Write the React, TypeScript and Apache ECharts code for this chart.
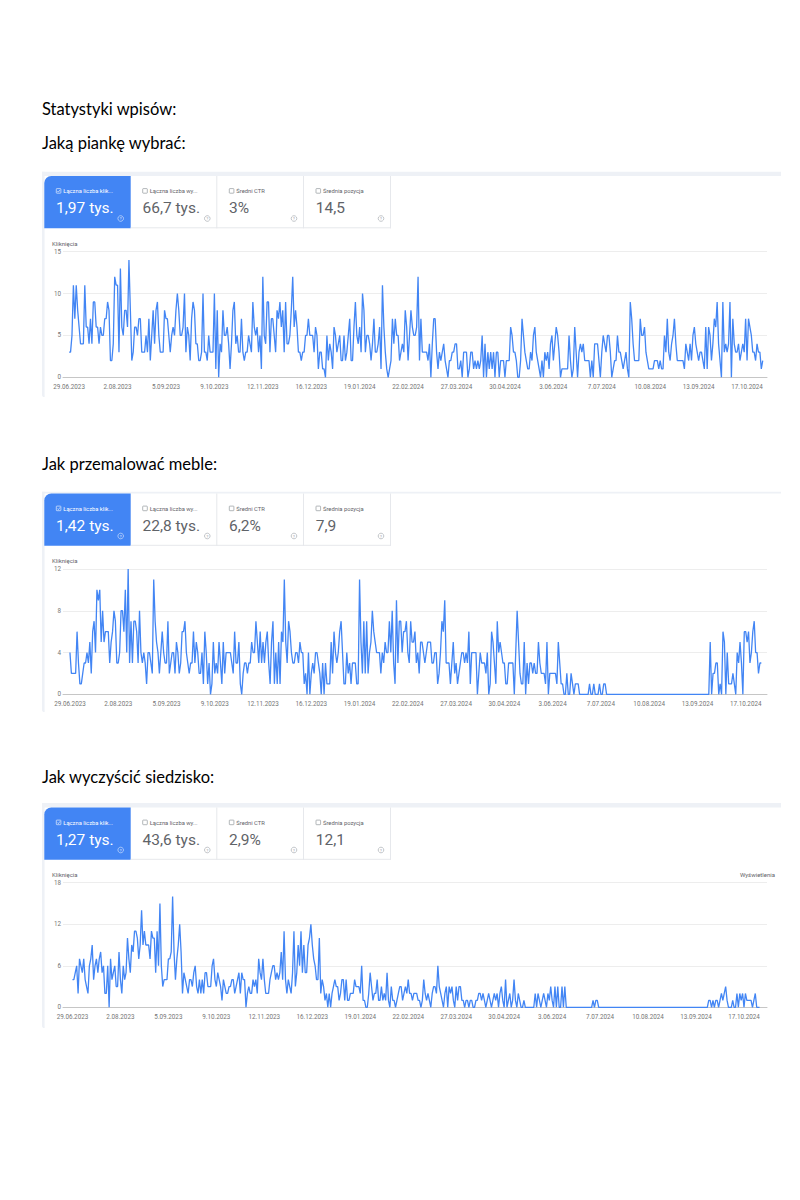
import React, { useEffect, useRef } from "react";
import * as echarts from "echarts";

// ---------- DATA ----------
const xTickLabels = [
  "29.06.2023", "2.08.2023", "5.09.2023", "9.10.2023", "12.11.2023", "16.12.2023", "19.01.2024",
  "22.02.2024", "27.03.2024", "30.04.2024", "3.06.2024", "7.07.2024", "10.08.2024", "13.09.2024", "17.10.2024",
];
const xTickDays = [0, 34, 68, 102, 136, 170, 204, 238, 272, 306, 340, 374, 408, 442, 476];

const cardLabels = ["Łączna liczba klik...", "Łączna liczba wy...", "Średni CTR", "Średnia pozycja"];
const cardValuesPianka = ["1,97 tys.", "66,7 tys.", "3%", "14,5"];
const cardValuesMeble = ["1,42 tys.", "22,8 tys.", "6,2%", "7,9"];
const cardValuesSiedzisko = ["1,27 tys.", "43,6 tys.", "2,9%", "12,1"];

// daily clicks, 29.06.2023 – 28.10.2024 (488 days)
const clicksPianka = [
  3, 3, 5, 11, 7, 11, 8, 6, 4, 4,
  4, 11, 6, 6, 4, 7, 4, 9, 9, 6,
  6, 4, 6, 5, 5, 7, 7, 9, 8, 2,
  2, 4, 12, 11, 11, 3, 13, 6, 5, 8,
  8, 6, 14, 8, 2, 3, 6, 6, 5, 7,
  7, 3, 3, 3, 5, 3, 7, 2, 5, 8,
  4, 8, 9, 5, 3, 3, 3, 8, 7, 7,
  5, 3, 5, 6, 5, 8, 10, 8, 5, 5,
  6, 10, 3, 6, 5, 2, 7, 9, 8, 4,
  4, 2, 2, 3, 10, 3, 3, 2, 5, 3,
  3, 3, 10, 1, 8, 0, 4, 3, 8, 5,
  5, 6, 4, 1, 4, 8, 9, 4, 5, 3,
  3, 7, 3, 2, 3, 3, 5, 4, 3, 9,
  6, 5, 6, 3, 5, 1, 12, 5, 4, 9,
  9, 3, 7, 7, 5, 3, 8, 7, 9, 6,
  8, 3, 9, 4, 4, 5, 8, 12, 6, 8,
  6, 3, 3, 2, 3, 3, 5, 5, 7, 5,
  5, 5, 3, 6, 5, 1, 3, 3, 1, 1,
  0, 5, 2, 4, 3, 1, 6, 5, 3, 4,
  5, 2, 2, 5, 2, 3, 5, 7, 2, 2,
  6, 9, 5, 4, 6, 3, 10, 8, 3, 5,
  5, 4, 2, 4, 7, 3, 3, 4, 6, 1,
  11, 6, 3, 1, 0, 1, 2, 7, 4, 7,
  5, 5, 2, 3, 4, 3, 8, 6, 2, 5,
  8, 6, 5, 5, 6, 12, 2, 7, 3, 3,
  3, 3, 2, 4, 0, 4, 7, 7, 3, 1,
  3, 2, 3, 4, 2, 1, 0, 2, 2, 3,
  3, 4, 4, 1, 1, 2, 0, 3, 3, 3,
  0, 1, 3, 3, 1, 2, 1, 2, 1, 2,
  5, 0, 4, 0, 3, 1, 3, 1, 3, 0,
  3, 3, 0, 2, 2, 2, 0, 2, 2, 2,
  6, 5, 3, 3, 2, 0, 0, 2, 7, 5,
  3, 2, 1, 1, 3, 2, 5, 6, 3, 2,
  1, 0, 2, 0, 3, 2, 3, 1, 4, 5,
  2, 4, 6, 5, 3, 0, 1, 1, 1, 1,
  1, 5, 2, 0, 1, 6, 3, 0, 3, 4,
  3, 4, 2, 2, 2, 2, 0, 2, 0, 4,
  4, 4, 2, 0, 3, 5, 4, 3, 5, 5,
  3, 0, 1, 2, 2, 5, 3, 3, 2, 1,
  2, 3, 1, 0, 9, 7, 4, 2, 2, 2,
  2, 7, 5, 5, 6, 3, 2, 1, 1, 1,
  1, 2, 2, 2, 1, 2, 1, 1, 5, 3,
  7, 3, 2, 4, 5, 7, 4, 2, 2, 2,
  2, 2, 1, 4, 3, 2, 4, 2, 5, 6,
  4, 3, 2, 3, 3, 2, 1, 6, 1, 6,
  5, 2, 4, 7, 6, 9, 4, 2, 0, 9,
  3, 4, 3, 4, 9, 0, 7, 4, 3, 3,
  4, 2, 3, 4, 3, 7, 2, 7, 6, 5,
  3, 3, 2, 4, 3, 3, 1, 2,
];

const clicksMeble = [
  4, 2, 2, 2, 2, 6, 3, 1, 1, 2,
  3, 3, 4, 3, 5, 2, 6, 7, 4, 10,
  9, 10, 5, 8, 5, 6, 6, 6, 3, 5,
  6, 8, 7, 3, 3, 4, 8, 8, 6, 10,
  4, 12, 3, 7, 3, 7, 7, 6, 3, 8,
  4, 3, 4, 3, 1, 4, 4, 3, 2, 11,
  7, 5, 4, 2, 4, 6, 4, 3, 3, 7,
  2, 3, 4, 4, 2, 5, 4, 2, 3, 6,
  6, 7, 4, 3, 2, 3, 3, 6, 3, 5,
  4, 2, 2, 4, 1, 6, 4, 1, 3, 0,
  1, 5, 2, 3, 2, 5, 3, 1, 5, 2,
  4, 4, 4, 4, 3, 2, 6, 3, 3, 5,
  1, 0, 2, 3, 3, 2, 3, 3, 5, 4,
  4, 7, 5, 3, 6, 3, 5, 3, 5, 6,
  3, 1, 5, 7, 1, 4, 1, 5, 1, 6,
  5, 11, 5, 3, 7, 6, 4, 3, 3, 4,
  4, 3, 5, 4, 4, 1, 2, 0, 4, 0,
  2, 3, 2, 4, 4, 3, 2, 0, 3, 0,
  3, 1, 1, 1, 5, 2, 6, 4, 3, 4,
  6, 7, 4, 1, 1, 4, 2, 3, 1, 3,
  3, 3, 1, 1, 11, 5, 2, 7, 2, 7,
  2, 4, 5, 8, 6, 5, 4, 4, 4, 2,
  4, 3, 5, 4, 4, 7, 4, 8, 3, 1,
  9, 3, 7, 7, 4, 6, 6, 7, 4, 3,
  7, 5, 5, 6, 3, 4, 2, 5, 5, 4,
  3, 4, 5, 5, 5, 3, 3, 4, 4, 1,
  2, 4, 7, 6, 9, 3, 3, 3, 1, 3,
  5, 2, 3, 1, 2, 3, 4, 4, 3, 4,
  3, 6, 1, 4, 4, 4, 4, 0, 2, 4,
  3, 3, 3, 2, 4, 0, 1, 6, 5, 3,
  1, 7, 4, 5, 4, 3, 3, 1, 1, 3,
  3, 3, 3, 0, 4, 8, 5, 2, 1, 1,
  5, 0, 3, 1, 3, 3, 2, 3, 2, 2,
  5, 3, 2, 2, 2, 1, 5, 0, 2, 2,
  2, 2, 2, 1, 5, 3, 1, 1, 0, 0,
  2, 0, 0, 2, 1, 0, 1, 1, 1, 0,
  0, 0, 0, 0, 0, 0, 1, 0, 0, 1,
  0, 0, 0, 1, 0, 0, 1, 1, 0, 0,
  0, 0, 0, 0, 0, 0, 0, 0, 0, 0,
  0, 0, 0, 0, 0, 0, 0, 0, 0, 0,
  0, 0, 0, 0, 0, 0, 0, 0, 0, 0,
  0, 0, 0, 0, 0, 0, 0, 0, 0, 0,
  0, 0, 0, 0, 0, 0, 0, 0, 0, 0,
  0, 0, 0, 0, 0, 0, 0, 0, 0, 0,
  0, 0, 0, 0, 0, 0, 0, 0, 0, 0,
  0, 5, 0, 2, 2, 3, 3, 0, 1, 0,
  6, 5, 0, 4, 1, 1, 1, 2, 1, 0,
  4, 3, 5, 3, 0, 6, 6, 5, 6, 3,
  4, 6, 7, 4, 4, 2, 3, 3,
];

const clicksSiedzisko = [
  4, 4, 5, 6, 2, 7, 6, 5, 7, 4,
  3, 2, 6, 7, 9, 4, 6, 7, 5, 7,
  8, 5, 6, 2, 2, 6, 0, 7, 4, 5,
  6, 3, 3, 8, 4, 2, 6, 4, 5, 10,
  7, 5, 9, 8, 11, 11, 10, 7, 9, 14,
  9, 11, 9, 9, 9, 7, 11, 10, 10, 5,
  11, 6, 15, 6, 3, 4, 4, 4, 7, 7,
  8, 16, 8, 4, 7, 9, 12, 8, 2, 5,
  4, 3, 2, 4, 4, 3, 5, 6, 3, 2,
  4, 2, 4, 2, 5, 5, 3, 3, 3, 6,
  7, 4, 3, 5, 4, 3, 1, 4, 3, 2,
  2, 3, 3, 4, 4, 2, 3, 4, 5, 2,
  5, 4, 4, 0, 2, 3, 2, 2, 4, 3,
  4, 2, 7, 5, 4, 7, 4, 2, 2, 2,
  4, 5, 6, 6, 4, 5, 4, 5, 8, 4,
  11, 4, 2, 4, 3, 2, 5, 11, 3, 5,
  9, 6, 11, 5, 9, 5, 5, 9, 10, 12,
  9, 7, 6, 4, 4, 10, 2, 4, 3, 1,
  2, 0, 2, 0, 2, 3, 4, 3, 3, 1,
  2, 4, 4, 1, 4, 1, 1, 2, 2, 2,
  4, 3, 3, 3, 2, 6, 1, 1, 0, 0,
  2, 5, 3, 1, 2, 2, 4, 1, 1, 3,
  1, 2, 1, 5, 1, 0, 3, 1, 1, 0,
  1, 2, 3, 3, 1, 2, 3, 2, 4, 2,
  2, 1, 2, 2, 2, 1, 1, 0, 1, 4,
  2, 1, 2, 1, 0, 2, 3, 3, 2, 6,
  3, 2, 1, 0, 2, 3, 0, 3, 2, 3,
  1, 0, 3, 1, 3, 3, 1, 1, 0, 1,
  1, 0, 1, 1, 0, 0, 1, 1, 2, 2,
  1, 2, 1, 0, 1, 2, 1, 0, 1, 2,
  1, 2, 0, 2, 3, 1, 0, 4, 0, 1,
  2, 0, 1, 4, 1, 0, 2, 1, 0, 0,
  1, 0, 0, 0, 0, 0, 0, 0, 2, 0,
  2, 1, 0, 1, 2, 1, 0, 2, 1, 3,
  1, 0, 3, 0, 3, 0, 0, 3, 0, 3,
  0, 0, 0, 0, 0, 0, 0, 0, 0, 0,
  0, 0, 0, 0, 0, 0, 0, 0, 0, 1,
  0, 1, 1, 0, 0, 0, 0, 0, 0, 0,
  0, 0, 0, 0, 0, 0, 0, 0, 0, 0,
  0, 0, 0, 0, 0, 0, 0, 0, 0, 0,
  0, 0, 0, 0, 0, 0, 0, 0, 0, 0,
  0, 0, 0, 0, 0, 0, 0, 0, 0, 0,
  0, 0, 0, 0, 0, 0, 0, 0, 0, 0,
  0, 0, 0, 0, 0, 0, 0, 0, 0, 0,
  0, 0, 0, 0, 0, 0, 0, 0, 0, 0,
  0, 1, 1, 0, 1, 0, 1, 1, 0, 1,
  2, 1, 2, 3, 1, 0, 0, 0, 1, 0,
  0, 2, 0, 2, 1, 2, 0, 2, 1, 1,
  1, 1, 0, 1, 2, 0, 0, 0,
];

// ---------- LAYOUT ----------
const FONT = "Roboto, 'Noto Sans', sans-serif";
const TITLE_FONT = "Lato, 'Open Sans', sans-serif";
const BLUE = "#4285f4";
const GRAY_TXT = "#5f6368";
const AXIS_TXT = "#757575";
const FRAME = "#eef1f6";
const cardX = [44.3, 130.7, 217.3, 304, 391];
const CARD_H = 52.3;

const panels = [
  {
    title: "Jaką piankę wybrać:", titleY: 143.3, band: 171.7, cardTop: 176, stripBottom: 397, klikY: 243.3,
    values: cardValuesPianka, data: clicksPianka, gridTop: 251.7, gridH: 125.6, xMin: -4.3, xMax: 490, yMax: 15, yInt: 5, views: false,
  },
  {
    title: "Jak przemalować meble:", titleY: 463.5, band: 491.8, cardTop: 493.5, stripBottom: 712, klikY: 560.7,
    values: cardValuesMeble, data: clicksMeble, gridTop: 569, gridH: 125.3, xMin: -4.9, xMax: 491, yMax: 12, yInt: 4, views: false,
  },
  {
    title: "Jak wyczyścić siedzisko:", titleY: 776.5, band: 803, cardTop: 807.5, stripBottom: 1028, klikY: 874.3,
    values: cardValuesSiedzisko, data: clicksSiedzisko, gridTop: 882.7, gridH: 124.6, xMin: -6.7, xMax: 492.3, yMax: 18, yInt: 6, views: true,
  },
];

function txt(x: number, y: number, text: string, size: number, fill: string, family = FONT, align = "left", extra: any = {}) {
  return {
    type: "text", x, y, silent: true,
    style: { text, fontSize: size, fontFamily: family, fill, textAlign: align, textVerticalAlign: "middle", ...extra },
  };
}

function panelGraphics(p: any) {
  const g: any[] = [];
  g.push(txt(42, p.titleY, p.title, 16.5, "#000", TITLE_FONT));
  g.push({ type: "rect", silent: true, shape: { x: 42, y: p.band, width: 739, height: p.cardTop - p.band }, style: { fill: FRAME } });
  g.push({ type: "rect", silent: true, shape: { x: 42, y: p.band, width: 2.6, height: p.stripBottom - p.band, r: [0, 0, 0, 3] }, style: { fill: FRAME } });
  const top = p.cardTop;
  const bottom = top + CARD_H;
  g.push({ type: "rect", silent: true, shape: { x: cardX[0], y: top, width: cardX[1] - cardX[0], height: CARD_H, r: [7, 0, 0, 0] }, style: { fill: BLUE } });
  g.push({ type: "line", silent: true, shape: { x1: cardX[1], y1: bottom - 0.5, x2: cardX[4], y2: bottom - 0.5 }, style: { stroke: "#e6e8ec", lineWidth: 1 } });
  for (let c = 2; c <= 4; c++) {
    g.push({ type: "line", silent: true, shape: { x1: cardX[c] - 0.5, y1: top, x2: cardX[c] - 0.5, y2: bottom }, style: { stroke: "#e6e8ec", lineWidth: 1 } });
  }
  for (let c = 0; c < 4; c++) {
    const left = cardX[c];
    const right = cardX[c + 1];
    const active = c === 0;
    const col = active ? "#ffffff" : GRAY_TXT;
    g.push({ type: "rect", silent: true, shape: { x: left + 12, y: top + 12.6, width: 4.6, height: 4.6, r: 0.6 }, style: { fill: "none", stroke: active ? "#ffffff" : "#80868b", lineWidth: 0.6 } });
    if (active) {
      g.push({ type: "polyline", silent: true, shape: { points: [[left + 13, top + 15], [left + 14.1, top + 16.1], [left + 15.8, top + 13.8]] }, style: { fill: "none", stroke: "#ffffff", lineWidth: 0.6 } });
    }
    g.push(txt(left + 19, top + 15, cardLabels[c], 5.8, col));
    g.push(txt(left + 11.8, top + 32, p.values[c], 15.5, col));
    g.push({ type: "circle", silent: true, shape: { cx: right - 10, cy: top + 42.5, r: 2.8 }, style: { fill: "none", stroke: active ? "rgba(255,255,255,0.85)" : "#9aa0a6", lineWidth: 0.6 } });
    g.push(txt(right - 10, top + 42.6, "?", 3.8, active ? "rgba(255,255,255,0.9)" : "#9aa0a6", FONT, "center"));
  }
  g.push(txt(52, p.klikY, "Kliknięcia", 6, GRAY_TXT));
  if (p.views) g.push(txt(775, p.klikY, "Wyświetlenia", 6, GRAY_TXT, FONT, "right"));
  return g;
}

export default function App() {
  const ref = useRef<HTMLDivElement>(null);
  useEffect(() => {
    if (!ref.current) return;
    const chart = echarts.init(ref.current, null, { renderer: "svg" });
    const graphic: any[] = [txt(42, 109.3, "Statystyki wpisów:", 16.5, "#000", TITLE_FONT)];
    panels.forEach((p) => graphic.push(...panelGraphics(p)));

    const grid = panels.map((p) => ({ left: 63, right: 33, top: p.gridTop, height: p.gridH }));
    const xAxis = panels.map((p, i) => ({
      type: "value", gridIndex: i, min: p.xMin, max: p.xMax,
      splitLine: { show: false }, axisTick: { show: false },
      axisLine: { show: true, lineStyle: { color: "#c6c6c6", width: 1 } },
      axisLabel: {
        customValues: xTickDays, color: AXIS_TXT, fontSize: 6.3, fontFamily: FONT, margin: 7,
        formatter: (v: number) => xTickLabels[Math.round(v / 34)] ?? "",
      },
    }));
    const yAxis = panels.map((p, i) => ({
      type: "value", gridIndex: i, min: 0, max: p.yMax, interval: p.yInt,
      axisLine: { show: false }, axisTick: { show: false },
      splitLine: { lineStyle: { color: "#ededed", width: 1 } },
      axisLabel: { color: AXIS_TXT, fontSize: 6.3, fontFamily: FONT, margin: 2 },
    }));
    const series = panels.map((p, i) => ({
      type: "line", xAxisIndex: i, yAxisIndex: i, showSymbol: false, symbol: "none",
      lineStyle: { color: BLUE, width: 1.3 }, itemStyle: { color: BLUE },
      data: p.data.map((v: number, d: number) => [d, v]),
    }));

    chart.setOption({
      animation: false,
      backgroundColor: "#ffffff",
      grid, xAxis, yAxis, series, graphic,
    });
    return () => chart.dispose();
  }, []);
  return <div ref={ref} style={{ position: "absolute", left: 0, top: 0, width: 800, height: 1200 }} />;
}
